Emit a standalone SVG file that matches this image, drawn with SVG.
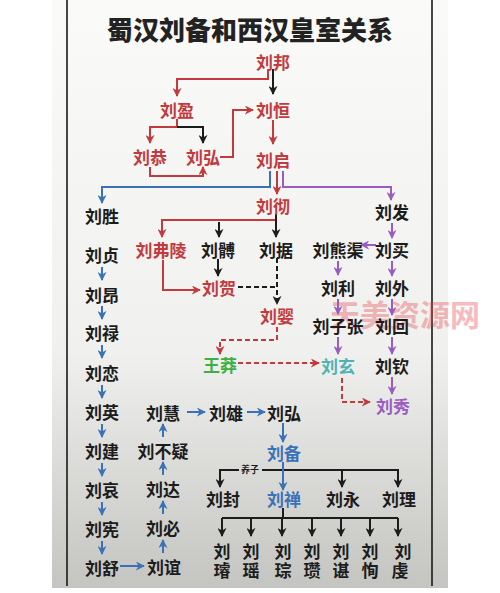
<svg xmlns="http://www.w3.org/2000/svg" width="500" height="593" viewBox="0 0 500 593">
<defs>
<linearGradient id="bg" x1="0" y1="0" x2="0" y2="1">
<stop offset="0" stop-color="#fafaf8"/>
<stop offset="0.6" stop-color="#f0f0ee"/>
<stop offset="1" stop-color="#c4c5c1"/>
</linearGradient>
<marker id="ar" viewBox="0 0 10 10" refX="9" refY="5" markerWidth="9" markerHeight="9" markerUnits="userSpaceOnUse" orient="auto"><path d="M0,0 L10,5 L0,10 L3,5 z" fill="#c23a3e"/></marker>
<marker id="ak" viewBox="0 0 10 10" refX="9" refY="5" markerWidth="9" markerHeight="9" markerUnits="userSpaceOnUse" orient="auto"><path d="M0,0 L10,5 L0,10 L3,5 z" fill="#1c1c1c"/></marker>
<marker id="ab" viewBox="0 0 10 10" refX="9" refY="5" markerWidth="9" markerHeight="9" markerUnits="userSpaceOnUse" orient="auto"><path d="M0,0 L10,5 L0,10 L3,5 z" fill="#3a72b8"/></marker>
<marker id="ap" viewBox="0 0 10 10" refX="9" refY="5" markerWidth="9" markerHeight="9" markerUnits="userSpaceOnUse" orient="auto"><path d="M0,0 L10,5 L0,10 L3,5 z" fill="#9a5cc0"/></marker>
</defs>
<style>
text{font-family:"Noto Sans CJK SC","Noto Sans CJK JP",sans-serif;font-weight:bold;font-size:17px;text-anchor:middle;dominant-baseline:central}
.t{font-size:26px;font-weight:900;fill:#222}
.k{fill:#1c1c1c}
.r{fill:#c23a3e}
.b{fill:#3a72b8}
.p{fill:#9a5cc0}
.g{fill:#3db043}
.c{fill:#4db3b5}
.s{font-size:9px;fill:#1c1c1c}
.wm{font-size:30px;fill:#e8404a;opacity:0.35}
#connectors path{fill:none;stroke-width:2}
.lr{stroke:#c23a3e}
.lk{stroke:#1c1c1c}
.lb{stroke:#3a72b8}
.lp{stroke:#9a5cc0}
.d{stroke-dasharray:5 3}
</style>
<rect x="0" y="0" width="500" height="593" fill="#ffffff"/>
<rect x="52" y="0" width="396" height="588" fill="url(#bg)"/>
<line x1="67" y1="0" x2="67" y2="586" stroke="#1a1a1a" stroke-width="1.6"/>
<line x1="432" y1="0" x2="432" y2="586" stroke="#1a1a1a" stroke-width="1.6"/>
<text class="t" x="250" y="28">蜀汉刘备和西汉皇室关系</text>
<text class="wm" x="405" y="313">天美资源网</text>

<g id="connectors">
<path class="lr" d="M268,70 V79 H177 V96" marker-end="url(#ar)"/>
<path class="lk" d="M273,69 V94" marker-end="url(#ak)"/>
<path class="lr" d="M177,119 V127 H150 V143" marker-end="url(#ar)"/>
<path class="lk" d="M177,127 H203 V143" marker-end="url(#ak)"/>
<path class="lr" d="M150,167 V176 H203 V167" marker-end="url(#ar)"/>
<path class="lr" d="M220,157 H233 V110 H253" marker-end="url(#ar)"/>
<path class="lr" d="M273,120 V144" marker-end="url(#ar)"/>
<path class="lb" d="M270,171 V187 H102 V203" marker-end="url(#ab)"/>
<path class="lr" d="M277,171 V194" marker-end="url(#ar)"/>
<path class="lp" d="M283,171 V187 H391 V200" marker-end="url(#ap)"/>
<path class="lr" d="M275,220 H162 V237" marker-end="url(#ar)"/>
<path class="lk" d="M276,214 V237" marker-end="url(#ak)"/>
<path class="lk" d="M219,222 V237" marker-end="url(#ak)"/>
<path class="lk" d="M218,259 V276" marker-end="url(#ak)"/>
<path class="lr" d="M163,260 V290 H200" marker-end="url(#ar)"/>
<path class="lk d" d="M238,287 H277"/>
<path class="lk d" d="M277,258 V304" marker-end="url(#ak)"/>
<path class="lr d" d="M277,327 V340 H220 V354" marker-end="url(#ar)"/>
<path class="lr d" d="M238,363 H319" marker-end="url(#ar)"/>
<path class="lr d" d="M342,378 V402 H370" marker-end="url(#ar)"/>
<path class="lp" d="M392,223 V238" marker-end="url(#ap)"/>
<path class="lp" d="M376,245 H361" marker-end="url(#ap)"/>
<path class="lp" d="M338,261 V275" marker-end="url(#ap)"/>
<path class="lp" d="M392,261 V276" marker-end="url(#ap)"/>
<path class="lp" d="M338,299 V314" marker-end="url(#ap)"/>
<path class="lp" d="M392,299 V315" marker-end="url(#ap)"/>
<path class="lp" d="M338,337 V354" marker-end="url(#ap)"/>
<path class="lp" d="M392,337 V354" marker-end="url(#ap)"/>
<path class="lp" d="M392,377 V394" marker-end="url(#ap)"/>
<path class="lb" d="M102,267 V280" marker-end="url(#ab)"/>
<path class="lb" d="M102,306 V319" marker-end="url(#ab)"/>
<path class="lb" d="M102,345 V358" marker-end="url(#ab)"/>
<path class="lb" d="M102,385 V398" marker-end="url(#ab)"/>
<path class="lb" d="M102,424 V437" marker-end="url(#ab)"/>
<path class="lb" d="M102,463 V476" marker-end="url(#ab)"/>
<path class="lb" d="M102,502 V515" marker-end="url(#ab)"/>
<path class="lb" d="M102,541 V554" marker-end="url(#ab)"/>
<path class="lb" d="M120,566 H144" marker-end="url(#ab)"/>
<path class="lb" d="M163,553 V540" marker-end="url(#ab)"/>
<path class="lb" d="M163,514 V501" marker-end="url(#ab)"/>
<path class="lb" d="M163,475 V462" marker-end="url(#ab)"/>
<path class="lb" d="M163,437 V424" marker-end="url(#ab)"/>
<path class="lb" d="M187,412 H205" marker-end="url(#ab)"/>
<path class="lb" d="M247,412 H265" marker-end="url(#ab)"/>
<path class="lb" d="M283,423 V442" marker-end="url(#ab)"/>
<path class="lk" d="M220,487 V470 H239"/>
<path class="lk" d="M262,470 H398 V487" marker-end="url(#ak)"/>
<path class="lk" d="M220,470 V487" marker-end="url(#ak)"/>
<path class="lk" d="M342,470 V487" marker-end="url(#ak)"/>
<path class="lb" d="M283,462 V490" marker-end="url(#ab)"/>
<path class="lk" d="M283,508 V518"/>
<path class="lk" d="M222,518 H398"/>
<path class="lk" d="M222,518 V536" marker-end="url(#ak)"/>
<path class="lk" d="M251,518 V536" marker-end="url(#ak)"/>
<path class="lk" d="M282,518 V536" marker-end="url(#ak)"/>
<path class="lk" d="M312,518 V536" marker-end="url(#ak)"/>
<path class="lk" d="M341,518 V536" marker-end="url(#ak)"/>
<path class="lk" d="M370,518 V536" marker-end="url(#ak)"/>
<path class="lk" d="M398,518 V536" marker-end="url(#ak)"/>
<text class="s" x="250" y="469">养子</text>
</g>

<g id="n-liubang"><text class="r" x="273" y="61">刘邦</text></g>
<g id="n-liuying"><text class="r" x="177" y="109">刘盈</text></g>
<g id="n-liuheng"><text class="r" x="273" y="109">刘恒</text></g>
<g id="n-liugong"><text class="r" x="150" y="156">刘恭</text></g>
<g id="n-liuhong1"><text class="r" x="203" y="156">刘弘</text></g>
<g id="n-liuqi"><text class="r" x="273" y="159">刘启</text></g>
<g id="n-liuche"><text class="r" x="273" y="205">刘彻</text></g>
<g id="n-liusheng"><text class="k" x="102" y="215">刘胜</text></g>
<g id="n-liufa"><text class="k" x="392" y="211">刘发</text></g>
<g id="n-liufuling"><text class="r" x="161" y="249">刘弗陵</text></g>
<g id="n-liubo"><text class="k" x="218" y="249">刘髆</text></g>
<g id="n-liuju"><text class="k" x="276" y="249">刘据</text></g>
<g id="n-liuxiongqu"><text class="k" x="338" y="249">刘熊渠</text></g>
<g id="n-liumai"><text class="k" x="392" y="249">刘买</text></g>
<g id="n-liuhe"><text class="r" x="219" y="287">刘贺</text></g>
<g id="n-liuli"><text class="k" x="338" y="287">刘利</text></g>
<g id="n-liuwai"><text class="k" x="392" y="287">刘外</text></g>
<g id="n-liuying2"><text class="r" x="277" y="315">刘婴</text></g>
<g id="n-liuzizhang"><text class="k" x="338" y="325">刘子张</text></g>
<g id="n-liuhui"><text class="k" x="392" y="325">刘回</text></g>
<g id="n-wangmang"><text class="g" x="220" y="364">王莽</text></g>
<g id="n-liuxuan"><text class="c" x="338" y="365">刘玄</text></g>
<g id="n-liuqin"><text class="k" x="392" y="365">刘钦</text></g>
<g id="n-liuxiu"><text class="p" x="393" y="405">刘秀</text></g>
<g id="n-liuzhen"><text class="k" x="102" y="254">刘贞</text></g>
<g id="n-liuang"><text class="k" x="102" y="294">刘昂</text></g>
<g id="n-liulu"><text class="k" x="102" y="332">刘禄</text></g>
<g id="n-liulian"><text class="k" x="102" y="372">刘恋</text></g>
<g id="n-liuying3"><text class="k" x="102" y="411">刘英</text></g>
<g id="n-liujian"><text class="k" x="102" y="450">刘建</text></g>
<g id="n-liuai"><text class="k" x="102" y="489">刘哀</text></g>
<g id="n-liuxian"><text class="k" x="102" y="528">刘宪</text></g>
<g id="n-liushu"><text class="k" x="102" y="567">刘舒</text></g>
<g id="n-liuyi"><text class="k" x="164" y="566">刘谊</text></g>
<g id="n-liubi"><text class="k" x="163" y="527">刘必</text></g>
<g id="n-liuda"><text class="k" x="163" y="488">刘达</text></g>
<g id="n-liubuyi"><text class="k" x="163" y="450">刘不疑</text></g>
<g id="n-liuhui2"><text class="k" x="163" y="412">刘慧</text></g>
<g id="n-liuxiong"><text class="k" x="226" y="412">刘雄</text></g>
<g id="n-liuhong2"><text class="k" x="284" y="412">刘弘</text></g>
<g id="n-liubei"><text class="b" x="284" y="452">刘备</text></g>
<g id="n-liufeng"><text class="k" x="223" y="498">刘封</text></g>
<g id="n-liushan"><text class="b" x="284" y="498">刘禅</text></g>
<g id="n-liuyong"><text class="k" x="343" y="498">刘永</text></g>
<g id="n-liuli2"><text class="k" x="399" y="498">刘理</text></g>
<g id="n-g1"><text class="k" x="222" y="550">刘</text><text class="k" x="222" y="569">璿</text></g>
<g id="n-g2"><text class="k" x="251" y="550">刘</text><text class="k" x="251" y="569">瑶</text></g>
<g id="n-g3"><text class="k" x="283" y="550">刘</text><text class="k" x="283" y="569">琮</text></g>
<g id="n-g4"><text class="k" x="312" y="550">刘</text><text class="k" x="312" y="569">瓒</text></g>
<g id="n-g5"><text class="k" x="341" y="550">刘</text><text class="k" x="341" y="569">谌</text></g>
<g id="n-g6"><text class="k" x="370" y="550">刘</text><text class="k" x="370" y="569">恂</text></g>
<g id="n-g7"><text class="k" x="403" y="550">刘</text><text class="k" x="400" y="569">虔</text></g>
</svg>
